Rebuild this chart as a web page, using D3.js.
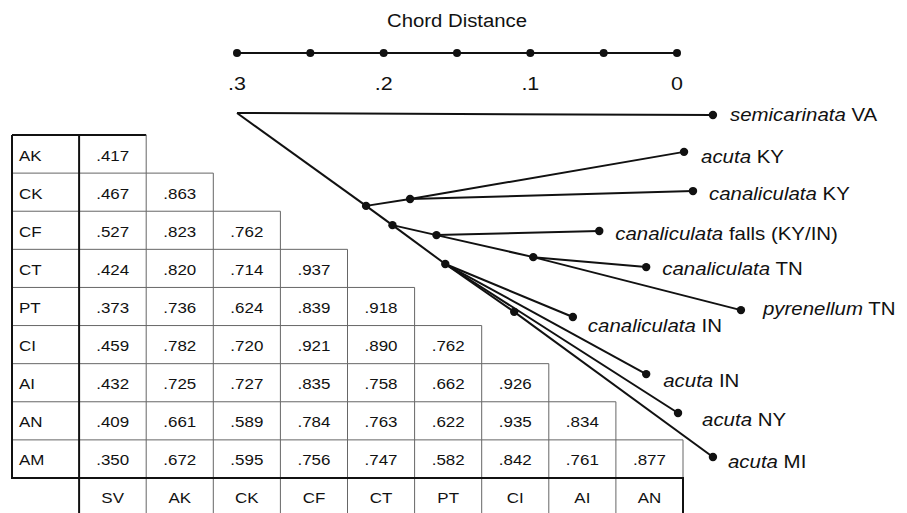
<!DOCTYPE html>
<html>
<head>
<meta charset="utf-8">
<script src="https://cdn.jsdelivr.net/npm/d3@7"></script>
<style>
  body { margin: 0; background: #fff; }
  text { font-family: "Liberation Sans", Arial, sans-serif; fill: #111; }
</style>
</head>
<body>
<div id="chart"></div>
<script>
// similarity matrix (lower triangle)
const rowLabels = ["AK", "CK", "CF", "CT", "PT", "CI", "AI", "AN", "AM"];
const colLabels = ["SV", "AK", "CK", "CF", "CT", "PT", "CI", "AI", "AN"];
const identity = [
  [0.417],
  [0.467, 0.863],
  [0.527, 0.823, 0.762],
  [0.424, 0.820, 0.714, 0.937],
  [0.373, 0.736, 0.624, 0.839, 0.918],
  [0.459, 0.782, 0.720, 0.921, 0.890, 0.762],
  [0.432, 0.725, 0.727, 0.835, 0.758, 0.662, 0.926],
  [0.409, 0.661, 0.589, 0.784, 0.763, 0.622, 0.935, 0.834],
  [0.350, 0.672, 0.595, 0.756, 0.747, 0.582, 0.842, 0.761, 0.877]
];

// chord distance scale
const scaleTicks = [0.3, 0.25, 0.2, 0.15, 0.1, 0.05, 0];
const scaleLabels = [0.3, 0.2, 0.1, 0];

// tree: dist = chord distance position, v = vertical position (0-100)
const treeNodes = [
  {id: "root", parent: null, dist: 0.300, v: 0},
  {id: "SV", parent: "root", dist: -0.0245, v: 0.6},
  {id: "A", parent: "root", dist: 0.212, v: 27.0},
  {id: "B", parent: "A", dist: 0.182, v: 25.0},
  {id: "AK", parent: "B", dist: -0.0048, v: 11.3},
  {id: "CK", parent: "B", dist: -0.0109, v: 22.7},
  {id: "C", parent: "A", dist: 0.194, v: 32.6},
  {id: "D", parent: "C", dist: 0.164, v: 35.5},
  {id: "CF", parent: "D", dist: 0.053, v: 34.3},
  {id: "E", parent: "D", dist: 0.098, v: 41.9},
  {id: "CT", parent: "E", dist: 0.021, v: 44.8},
  {id: "PT", parent: "E", dist: -0.0436, v: 57.3},
  {id: "F", parent: "C", dist: 0.158, v: 43.9},
  {id: "CI", parent: "F", dist: 0.071, v: 59.3},
  {id: "AI", parent: "F", dist: 0.021, v: 75.9},
  {id: "AN", parent: "F", dist: -0.0007, v: 87.2},
  {id: "G", parent: "F", dist: 0.111, v: 57.8},
  {id: "AM", parent: "G", dist: -0.0245, v: 100}
];

const tipIds = ["SV", "AK", "CK", "CF", "CT", "PT", "CI", "AI", "AN", "AM"];
const tipSpecies = ["semicarinata", "acuta", "canaliculata", "canaliculata", "canaliculata",
  "pyrenellum", "canaliculata", "acuta", "acuta", "acuta"];
const tipPlace = ["VA", "KY", "KY", "falls (KY/IN)", "TN", "TN", "IN", "IN", "NY", "MI"];

// label nudges relative to the tip dot
const labelNudge = {
  SV: [17, 6], AK: [17, 11], CK: [16, 9], CF: [16, 9], CT: [16, 8],
  PT: [22, 5], CI: [15, 15], AI: [17, 13], AN: [24, 13], AM: [15, 11]
};

const width = 907, height = 513;
const SX = 1.13; // the scan's type is a bit wide

const svg = d3.select("#chart")
  .append("svg")
    .attr("width", width)
    .attr("height", height);

function stretchText(g, x, y, size, anchor) {
  return g.append("text")
    .attr("transform", `translate(${x},${y}) scale(${SX},1)`)
    .attr("text-anchor", anchor || "start")
    .style("font-size", size + "px");
}

// ---- chord distance scale ----
const x = d3.scaleLinear().domain([0.3, 0]).range([237, 677]);
const scaleY = 53;

stretchText(svg, (x(0.3) + x(0)) / 2, 27, 18, "middle").text("Chord Distance");

svg.append("line")
  .attr("x1", x(0.3)).attr("x2", x(0))
  .attr("y1", scaleY).attr("y2", scaleY)
  .attr("stroke", "#111").attr("stroke-width", 2);

svg.selectAll(".stick")
  .data(scaleTicks)
  .enter()
  .append("circle")
    .attr("cx", d => x(d))
    .attr("cy", scaleY)
    .attr("r", 4)
    .attr("fill", "#111");

const fmtTick = d => d === 0 ? "0" : d3.format(".1f")(d).replace(/^0/, "");
scaleLabels.forEach(d => {
  stretchText(svg, x(d), 90, 19, "middle").text(fmtTick(d));
});

// ---- tree ----
const yTree = d3.scaleLinear().domain([0, 100]).range([113, 457]);
const byId = new Map(treeNodes.map(d => [d.id, d]));

svg.selectAll(".branch")
  .data(treeNodes.filter(d => d.parent))
  .enter()
  .append("line")
    .attr("x1", d => x(byId.get(d.parent).dist))
    .attr("y1", d => yTree(byId.get(d.parent).v))
    .attr("x2", d => x(d.dist))
    .attr("y2", d => yTree(d.v))
    .attr("stroke", "#111")
    .attr("stroke-width", 2);

svg.selectAll(".node")
  .data(treeNodes.filter(d => d.parent))
  .enter()
  .append("circle")
    .attr("cx", d => x(d.dist))
    .attr("cy", d => yTree(d.v))
    .attr("r", 4.2)
    .attr("fill", "#111");

tipIds.forEach((id, i) => {
  const n = byId.get(id);
  const off = labelNudge[id];
  const t = stretchText(svg, x(n.dist) + off[0], yTree(n.v) + off[1], 18.1);
  t.append("tspan").style("font-style", "italic").text(tipSpecies[i]);
  t.append("tspan").text(" " + tipPlace[i]);
});

// ---- matrix table ----
const col = d3.scaleBand().domain(["label"].concat(colLabels)).range([12, 683]);
const row = d3.scaleBand().domain(rowLabels).range([135, 478]);
const bw = col.bandwidth(), bh = row.bandwidth();
const tableBottom = 478, headerBottom = tableBottom + bh;
const thin = {stroke: "#666", w: 1}, thick = {stroke: "#111", w: 2};

const table = svg.append("g");
function seg(x1, y1, x2, y2, s) {
  table.append("line")
    .attr("x1", x1).attr("y1", y1).attr("x2", x2).attr("y2", y2)
    .attr("stroke", s.stroke).attr("stroke-width", s.w);
}

const fmtVal = d => d3.format(".3f")(d).replace(/^0/, "");

rowLabels.forEach((r, i) => {
  const y0 = row(r);
  const rightEdge = col(colLabels[i]) + bw;
  // top line of the row
  seg(12, y0, rightEdge, y0, i === 0 ? thick : thin);
  // vertical cell separators
  identity[i].forEach((v, j) => {
    const cx = col(colLabels[j]);
    seg(cx + bw, y0, cx + bw, y0 + bh, thin);
    stretchText(table, cx + bw / 2, y0 + 25.5, 15, "middle").text(fmtVal(v));
  });
  stretchText(table, 19, y0 + 25.5, 15).text(r);
});

// header row
colLabels.forEach(c => {
  const cx = col(c);
  seg(cx + bw, tableBottom, cx + bw, headerBottom, c === colLabels[colLabels.length - 1] ? thick : thin);
  stretchText(table, cx + bw / 2, tableBottom + 25, 15, "middle").text(c);
});

// heavy borders
seg(12, 135, 12, tableBottom, thick);
seg(col("label") + bw, 135, col("label") + bw, headerBottom, thick);
seg(11, tableBottom, col(colLabels[colLabels.length - 1]) + bw + 1, tableBottom, thick);
</script>
</body>
</html>
